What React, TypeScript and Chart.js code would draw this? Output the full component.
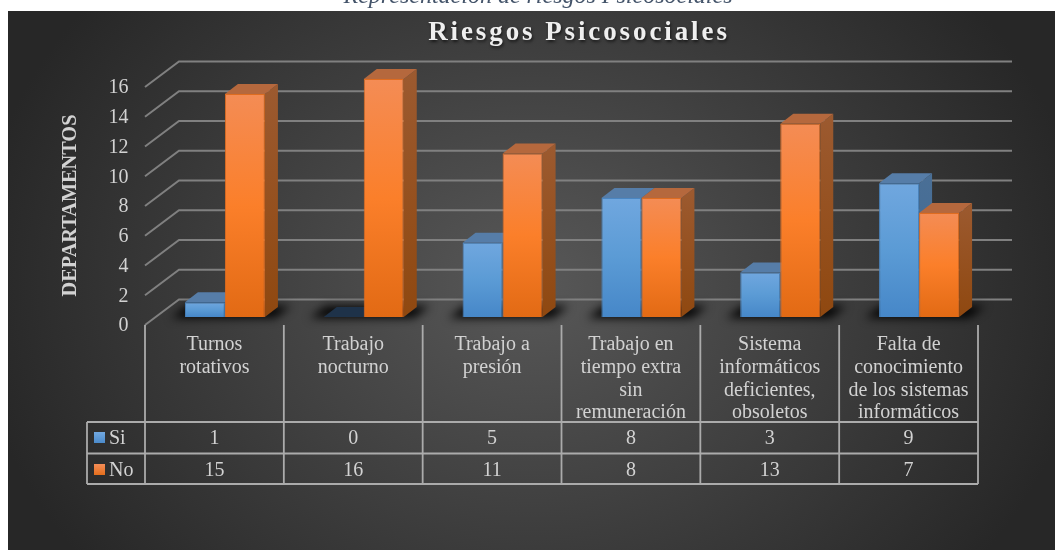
import React, { useEffect, useRef } from "react";
import { Chart, registerables } from "chart.js";

Chart.register(...registerables);

const caption = "Representación de riesgos Psicosociales";
const chartTitle = "Riesgos Psicosociales";
const yAxisTitle = "DEPARTAMENTOS";
const categories = [
  ["Turnos", "rotativos"],
  ["Trabajo", "nocturno"],
  ["Trabajo a", "presión"],
  ["Trabajo en", "tiempo extra", "sin", "remuneración"],
  ["Sistema", "informáticos", "deficientes,", "obsoletos"],
  ["Falta de", "conocimiento", "de los sistemas", "informáticos"],
];
const siValues = [1, 0, 5, 8, 3, 9];
const noValues = [15, 16, 11, 8, 13, 7];

const SERIF = '"Liberation Serif", serif';
const TEXT = "#D2D2D2";
const DX = 13;
const DY = 10;
const PLANE = 10.5;

const palette = [
  { grad: ["#70A7DF", "#5B9BD5", "#4687C8"], top: "#567DA8", side: ["#4A6F96", "#3F6A95"], edge: "#4A86C2" },
  { grad: ["#F48C55", "#FB7F2A", "#E26A14"], top: "#B5683D", side: ["#9C5A30", "#8F4810"], edge: "#DE6C20" },
];

const frontFill = (idx: number) => (ctx: any) => {
  const y = ctx.chart.scales.y;
  const raw = ctx.raw;
  if (ctx.type !== "data" || !y || typeof raw !== "number") return palette[idx].grad[1];
  const y0 = y.getPixelForValue(raw);
  const y1 = y.getPixelForValue(0);
  if (!Number.isFinite(y0) || !Number.isFinite(y1)) return palette[idx].grad[1];
  const g = ctx.chart.ctx.createLinearGradient(0, y0, 0, y1);
  g.addColorStop(0, palette[idx].grad[0]);
  g.addColorStop(0.5, palette[idx].grad[1]);
  g.addColorStop(1, palette[idx].grad[2]);
  return g;
};

const poly = (c: CanvasRenderingContext2D, pts: number[][]) => {
  c.beginPath();
  pts.forEach((p, i) => (i ? c.lineTo(p[0], p[1]) : c.moveTo(p[0], p[1])));
  c.closePath();
};

const scene = {
  id: "scene",
  beforeDraw(chart: any) {
    const c: CanvasRenderingContext2D = chart.ctx;
    c.save();
    c.fillStyle = "#fff";
    c.fillRect(0, 0, 1055, 550);
    c.font = `italic 24px ${SERIF}`;
    c.fillStyle = "#44546A";
    c.textAlign = "center";
    c.textBaseline = "alphabetic";
    c.fillText(caption, 538, 3);
    c.beginPath();
    c.rect(8, 11, 1047, 539);
    c.clip();
    c.translate(531, 285);
    c.scale(1, 0.82);
    const g = c.createRadialGradient(0, 0, 0, 0, 0, 560);
    g.addColorStop(0, "#585858");
    g.addColorStop(1, "#272727");
    c.fillStyle = g;
    c.fillRect(-560, -400, 1120, 800);
    c.restore();
  },
  beforeDatasetsDraw(chart: any) {
    const c: CanvasRenderingContext2D = chart.ctx;
    const y = chart.scales.y;
    const x = chart.scales.x;
    c.save();

    // back wall and side wall gridlines
    c.strokeStyle = "#808080";
    c.lineWidth = 2;
    y.ticks.forEach((t: any) => {
      const py = y.getPixelForValue(t.value);
      const backY = py - 17.5;
      c.beginPath();
      c.moveTo(145, py + 8);
      c.lineTo(179, backY);
      c.lineTo(1012, backY);
      c.stroke();
    });

    // data table
    c.strokeStyle = "#ABABAB";
    c.lineWidth = 1.8;
    const edges = categories.map((_, i) => x.getPixelForTick(i) - PLANE - x.width / categories.length / 2);
    edges.push(edges[edges.length - 1] + x.width / categories.length);
    edges.forEach((ex: number) => {
      c.beginPath();
      c.moveTo(ex, 325);
      c.lineTo(ex, 484);
      c.stroke();
    });
    [422, 453.5, 484].forEach((ly) => {
      c.beginPath();
      c.moveTo(87, ly);
      c.lineTo(edges[edges.length - 1], ly);
      c.stroke();
    });
    c.beginPath();
    c.moveTo(87, 422);
    c.lineTo(87, 484);
    c.stroke();

    c.fillStyle = TEXT;
    c.font = `20px ${SERIF}`;
    c.textBaseline = "middle";
    c.textAlign = "center";
    [siValues, noValues].forEach((vals, r) => {
      const ty = r ? 470.5 : 438.5;
      vals.forEach((v, i) => c.fillText(String(v), x.getPixelForTick(i) - PLANE, ty));
    });
    c.textAlign = "left";
    ["Si", "No"].forEach((name, r) => {
      const ty = r ? 470.5 : 438.5;
      const g = c.createLinearGradient(0, ty - 6, 0, ty + 6);
      g.addColorStop(0, palette[r].grad[0]);
      g.addColorStop(1, palette[r].grad[2]);
      c.fillStyle = g;
      c.fillRect(94, ty - 6.5, 11, 11);
      c.fillStyle = TEXT;
      c.fillText(name, 109, ty);
    });

    // floor shadows
    const m0 = chart.getDatasetMeta(0).data;
    const m1 = chart.getDatasetMeta(1).data;
    m0.forEach((el: any, i: number) => {
      const l = el.x - el.width / 2;
      const r = m1[i].x + m1[i].width / 2;
      const b = el.base;
      c.save();
      c.filter = "blur(5px)";
      c.fillStyle = "rgba(0,0,0,0.95)";
      poly(c, [[l - 14, b + 1], [l + 2, b - 11], [r + 26, b - 11], [r + 10, b + 1]]);
      c.fill();
      c.restore();
    });

    // depth faces
    [m0, m1].forEach((meta: any[], d: number) => {
      meta.forEach((el: any, i: number) => {
        const l = el.x - el.width / 2;
        const r = el.x + el.width / 2;
        const t = el.y;
        const b = el.base;
        const v = d ? noValues[i] : siValues[i];
        if (v > 0) {
          const g = c.createLinearGradient(0, t - DY, 0, b);
          g.addColorStop(0, palette[d].side[0]);
          g.addColorStop(1, palette[d].side[1]);
          c.fillStyle = g;
          poly(c, [[r, t], [r + DX, t - DY], [r + DX, b - DY], [r, b]]);
          c.fill();
        }
        c.fillStyle = v > 0 ? palette[d].top : "#1E3249";
        poly(c, [[l, t], [l + DX, t - DY], [r + DX, t - DY], [r, t]]);
        c.fill();
      });
    });
    c.restore();
  },
  afterDraw(chart: any) {
    const c: CanvasRenderingContext2D = chart.ctx;
    c.save();
    c.textAlign = "center";
    c.textBaseline = "middle";
    c.font = `bold 27px ${SERIF}`;
    (c as any).letterSpacing = "2.9px";
    c.shadowColor = "rgba(0,0,0,0.6)";
    c.shadowBlur = 3;
    c.shadowOffsetX = 1;
    c.shadowOffsetY = 2;
    c.fillStyle = "#EFEFEF";
    c.fillText(chartTitle, 579, 33.5);
    c.restore();
    c.save();
    c.translate(71, 205.5);
    c.rotate(-Math.PI / 2);
    c.textAlign = "center";
    c.textBaseline = "middle";
    c.font = `bold 20.3px ${SERIF}`;
    c.fillStyle = TEXT;
    c.fillText(yAxisTitle, 0, 0);
    c.restore();
  },
};

export default function App() {
  const ref = useRef<HTMLCanvasElement>(null);
  useEffect(() => {
    const chart = new Chart(ref.current as HTMLCanvasElement, {
      type: "bar",
      data: {
        labels: categories as any,
        datasets: [
          { label: "Si", data: siValues, backgroundColor: frontFill(0) as any, borderColor: palette[0].edge, borderWidth: (ctx: any) => (ctx.raw > 0 ? 1 : 0) },
          { label: "No", data: noValues, backgroundColor: frontFill(1) as any, borderColor: palette[1].edge, borderWidth: 1 },
        ],
      },
      options: {
        responsive: false,
        animation: false,
        devicePixelRatio: 1,
        layout: { padding: { top: 79, right: 66.5, left: 0, bottom: 0 } },
        datasets: { bar: { categoryPercentage: 80 / 138.83, barPercentage: 1 } },
        plugins: { legend: { display: false }, title: { display: false }, tooltip: { enabled: false } },
        scales: {
          x: {
            grid: { display: false, drawTicks: false },
            border: { display: false },
            ticks: {
              autoSkip: false,
              maxRotation: 0,
              minRotation: 0,
              padding: 16,
              labelOffset: -PLANE,
              color: TEXT,
              font: { family: "Liberation Serif", size: 20, lineHeight: 22.9 / 20 },
            },
            afterFit: (s: any) => { s.height = 233; },
          },
          y: {
            min: 0,
            max: 16,
            grid: { display: false, drawTicks: false },
            border: { display: false },
            ticks: {
              stepSize: 2,
              padding: 27,
              labelOffset: 9,
              color: TEXT,
              font: { family: "Liberation Serif", size: 20 },
            },
            afterFit: (s: any) => { s.width = 155.5; },
          },
        },
      },
      plugins: [scene],
    });
    return () => chart.destroy();
  }, []);
  return (
    <canvas
      ref={ref}
      width={1055}
      height={550}
      style={{ position: "fixed", left: 0, top: 0, width: 1055, height: 550, display: "block" }}
    />
  );
}
